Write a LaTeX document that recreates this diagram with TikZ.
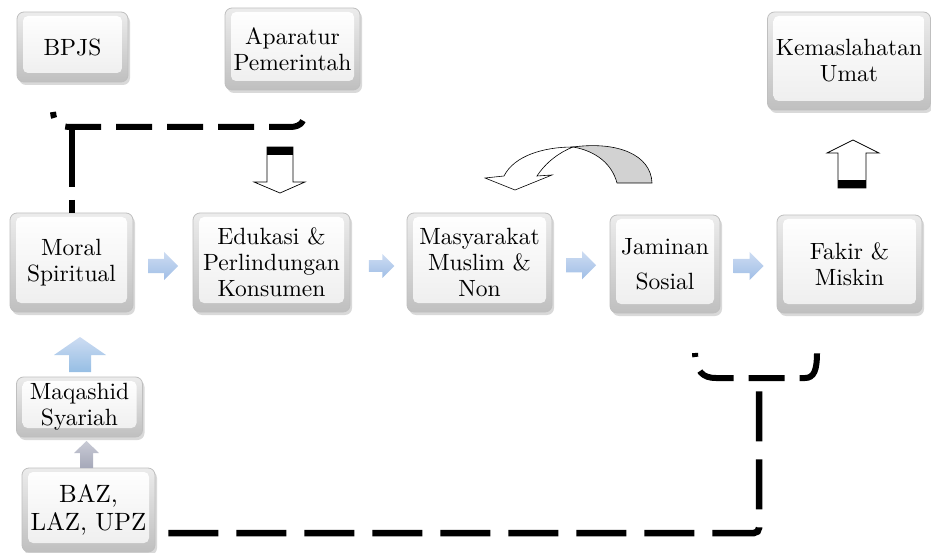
\documentclass[tikz,border=0pt]{standalone}
\usepackage{fontspec}
\setmainfont{lmroman10-regular}[Extension=.otf]
\usetikzlibrary{shadows,calc}
\definecolor{barrowc}{RGB}{160,190,230}
\definecolor{barrowl}{RGB}{205,220,242}
\definecolor{uarrowc}{RGB}{150,190,228}
\definecolor{garrowc}{RGB}{165,168,185}
\begin{document}
\begin{tikzpicture}[x=1pt,y=-1pt,
  btn/.style={rounded corners=7pt, draw=gray!50, line width=0.8pt,
    top color=gray!15, bottom color=gray!50, align=center,
    font=\fontsize{23.5}{26}\selectfont, text=black, inner sep=0pt,
    drop shadow={shadow xshift=2pt, shadow yshift=-3pt, opacity=0.3, fill=gray},
    path picture={\shade[top color=white, bottom color=gray!14, rounded corners=5pt]
      ([shift={(6pt,-4pt)}]path picture bounding box.north west) rectangle
      ([shift={(-6pt,9pt)}]path picture bounding box.south east);}},
  dl/.style={line width=6.5pt, dash pattern=on 50pt off 18pt},
  br/.style={line width=6pt, dash pattern=on 36pt off 15pt},
  hollow/.style={fill=white, draw=black, line width=0.7pt},
  pics/rarr/.style={code={\shade[top color=barrowl, bottom color=barrowc]
    (-15,-7) -- (1,-7) -- (1,-14) -- (15,0) -- (1,14) -- (1,7) -- (-15,7) -- cycle;}},
]
\useasboundingbox (0,0) rectangle (931,553);

% boxes
\node[btn, minimum width=111pt, minimum height=70pt] (bpjs) at (72.5,47) {BPJS};
\node[btn, minimum width=135pt, minimum height=82pt] (apa) at (292.5,49) {Aparatur\\Pemerintah};
\node[btn, minimum width=163pt, minimum height=98pt] (kem) at (849,61) {Kemaslahatan\\Umat};
\node[btn, minimum width=123pt, minimum height=99pt] (moral) at (71.5,262.5) {Moral\\Spiritual};
\node[btn, minimum width=157pt, minimum height=99pt] (edu) at (271.5,262.5) {Edukasi \&\\Perlindungan\\Konsumen};
\node[btn, minimum width=145pt, minimum height=99pt] (mas) at (479.5,262.5) {Masyarakat\\Muslim \&\\Non};
\node[btn, minimum width=110pt, minimum height=98pt] (jam) at (665,264) {Jaminan\\[9pt]Sosial};
\node[btn, minimum width=145pt, minimum height=98pt] (fak) at (849.5,264) {Fakir \&\\Miskin};
\node[btn, minimum width=126pt, minimum height=60pt] (maq) at (79.5,407) {Maqashid\\Syariah};
\node[btn, minimum width=133pt, minimum height=84pt, font=\fontsize{25}{28}\selectfont] (baz) at (88.5,510) {BAZ,\\LAZ, UPZ};

% small blue arrows
\pic at ($(moral.east)!0.5!(edu.west)+(0,3.5)$) {rarr};
\pic[scale=0.85] at ($(edu.east)!0.5!(mas.west)+(3,3.5)$) {rarr};
\pic at ($(mas.east)!0.5!(jam.west)+(0,2)$) {rarr};
\pic at ($(jam.east)!0.5!(fak.west)+(0,2)$) {rarr};

% up arrows on the left
\shade[top color=barrowl, bottom color=uarrowc]
  (69,372) -- (69,355) -- (54,355) -- (80,337) -- (106,355) -- (91,355) -- (91,372) -- cycle;
\shade[top color=garrowc!60!white, bottom color=garrowc]
  (80,468) -- (80,453) -- (74,453) -- (86.5,441) -- (99,453) -- (93,453) -- (93,468) -- cycle;

% hollow arrows
\filldraw[hollow] (267,147) -- (293,147) -- (293,182) -- (305,182) -- (280,193) -- (254,182) -- (267,182) -- cycle;
\fill[black] (267,147) rectangle (293,155);
\filldraw[hollow] (838,188) -- (838,153) -- (827,153) -- (853,140) -- (879,153) -- (866,153) -- (866,188) -- cycle;
\fill[black] (838,180) rectangle (866,188);

% curved U-turn arrow
\filldraw[fill=gray!35, draw=black, line width=0.6pt]
  (573,147) .. controls (618,141) and (651,155) .. (652,183) -- (617,183)
  .. controls (612,164) and (596,151) .. (573,147) -- cycle;
\filldraw[hollow, line width=0.6pt]
  (573,147) .. controls (543,147) and (514,156) .. (504,176) -- (485,178) -- (515,190)
  -- (552,175) -- (537,176) .. controls (546,162) and (560,152) .. (573,147) -- cycle;

% dashed connectors
\coordinate (tc) at (71.5,127);
\draw[br, dash phase=30pt] (53,112) .. controls (54,124) and (60,127) .. (tc)
  -- (290,127) .. controls (302,127) and (305,120) .. (305,110);
\draw[line width=6pt, dash pattern=on 60pt off 13pt] (tc) -- (moral.north);

\coordinate (bm) at (759,378);
\draw[br, dash phase=32pt] (695,353) .. controls (696,372) and (703,378) .. (716,378)
  -- (bm) -- (805,378) .. controls (814,378) and (817,370) .. (817,353);
\coordinate (bz) at ($(baz.east)+(13,23)$);
\draw[dl, rounded corners=5pt] (bz) -| (bm);
\end{tikzpicture}
\end{document}
